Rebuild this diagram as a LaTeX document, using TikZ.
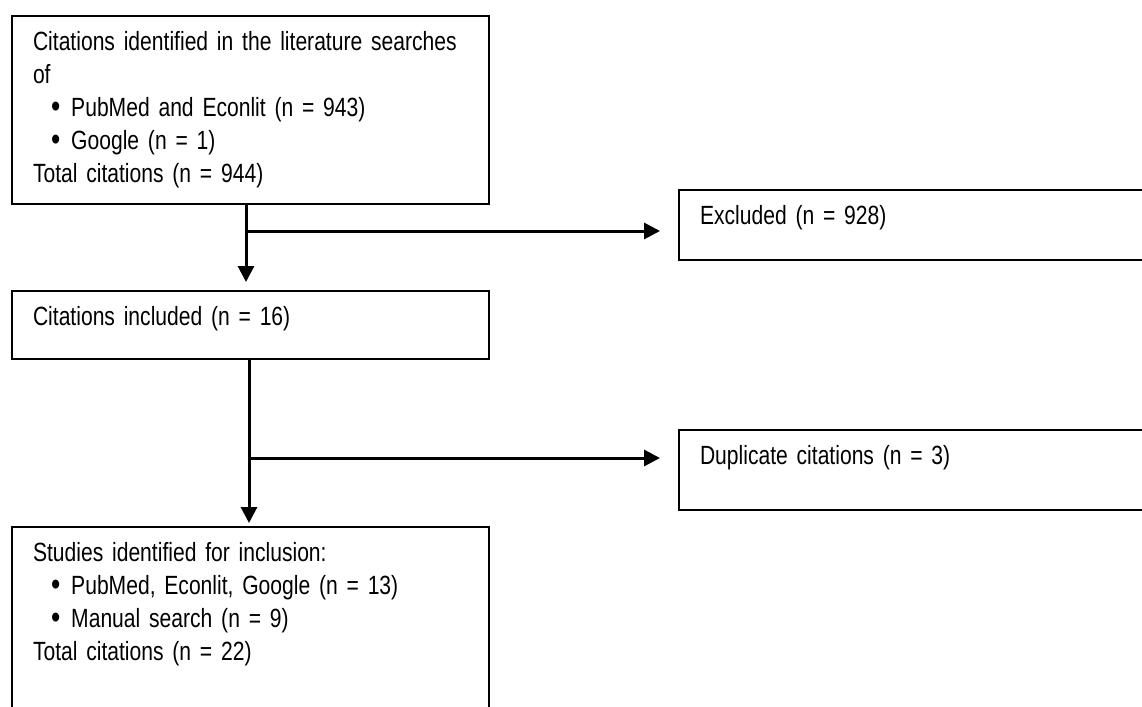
\documentclass[tikz,border=0pt]{standalone}
\usepackage{fontspec}
\setmainfont{Liberation Sans}[FakeStretch=0.80, WordSpace=0.6]
\usetikzlibrary{arrows.meta}
\tikzset{ box/.style = { draw
                       , line width   = 0.4mm
                       , anchor       = north west
                       , align        = left
                       , text width   = 87mm
                       , inner xsep   = 4.2mm
                       , inner ysep   = 0pt
                       , text height  = 6.8mm
                       , font         = \fontsize{15pt}{18.8pt}\selectfont
                       },
          arr/.style = { line width = 0.6mm
                       , -{Triangle[length=3.2mm, width=3.2mm]}
                       }
        }
\newcommand{\bul}{\hspace*{3.6mm}\raisebox{-0.04em}{\scalebox{1.25}{\textbullet}}\hspace{2.2mm}}

\begin{document}
\begin{tikzpicture}[x=0.2mm, y=-0.2mm]
          \clip (0,0) rectangle (1142,707);
          \node[box, text depth=30.7mm] (cites) at (11,15.5)
            {Citations identified in the literature searches\\ of\\
             \bul PubMed and Econlit (n = 943)\\
             \bul Google (n = 1)\\
             Total citations (n = 944)};
          \node[box, text depth=6.8mm] (incl) at (11,290) {Citations included (n = 16)};
          \node[box, text depth=37.2mm] (studies) at (11,526)
            {Studies identified for inclusion:\\
             \bul PubMed, Econlit, Google (n = 13)\\
             \bul Manual search (n = 9)\\
             Total citations (n = 22)};
          \node[box, text depth=7.2mm] (excl) at (678,189) {Excluded (n = 928)};
          \node[box, text depth=9.2mm] (dupl) at (678,429) {Duplicate citations (n = 3)};
          \coordinate (s1) at (246,231);
          \coordinate (s2) at (249,458);
          \draw[arr, shorten >=1.6mm] (s1 |- cites.south) -- (s1 |- incl.north);
          \draw[arr, shorten >=3.6mm] (s1) -- (s1 -| excl.west);
          \draw[arr, shorten >=0.6mm] (s2 |- incl.south) -- (s2 |- studies.north);
          \draw[arr, shorten >=3.6mm] (s2) -- (s2 -| dupl.west);
        \end{tikzpicture}
\end{document}
